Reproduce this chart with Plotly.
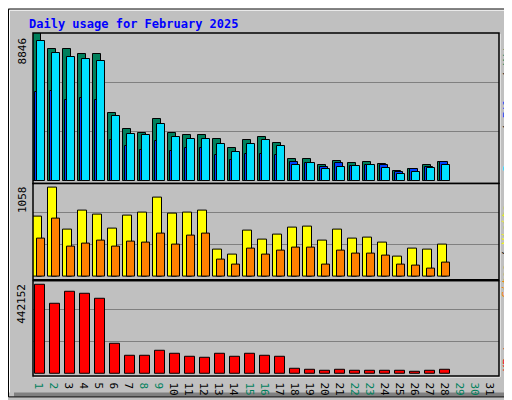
import plotly.graph_objects as go

days = list(range(1, 29))
all_days = list(range(1, 32))

hits = [8846, 7897, 7897, 7606, 7606, 4056, 3067, 2834, 3707, 2834, 2718, 2718, 2485, 1961,
        2427, 2601, 2252, 1280, 1320, 914, 1164, 1048, 1146, 972, 564, 681, 914, 1146]
files = [5337, 5395, 4813, 4929, 4813, 2444, 2078, 1845, 2369, 1787, 1961, 1961, 1554, 1263,
         1612, 1612, 1554, 1146, 1088, 832, 1030, 855, 914, 914, 506, 681, 797, 1100]
pages = [8363, 7664, 7432, 7315, 7199, 3882, 2776, 2718, 3416, 2601, 2485, 2485, 2194, 1729,
         2194, 2427, 2078, 914, 1088, 681, 797, 855, 914, 739, 390, 506, 739, 914]
visits = [659, 980, 520, 734, 680, 531, 670, 712, 873, 691, 712, 734, 296, 242,
          509, 413, 467, 541, 552, 403, 520, 424, 435, 381, 221, 306, 296, 360]
sites = [424, 638, 338, 370, 403, 338, 392, 381, 477, 360, 456, 477, 189, 135,
         306, 242, 285, 317, 317, 135, 285, 253, 253, 232, 135, 125, 93, 157]
kbytes = [406000, 321600, 375000, 366000, 344000, 138000, 80000, 80000, 103000, 89000, 76000,
          71000, 89000, 76000, 89000, 80000, 76000, 22000, 18000, 13000, 18000, 13000, 13000,
          13000, 13000, 9000, 13000, 18000]
weekend = [1, 2, 8, 9, 15, 16, 22, 23, 29, 30]

max_hits, max_visits, max_kb = 8846, 1058, 442152

FONT = "DejaVu Sans Mono"
W, H = 512, 400
L, R, T, B = 25, 491, 25, 378


def px(x):
    return (x - L) / (R - L)


def py(y):
    return (B - y) / (B - T)


fig = go.Figure()


def add_bar(y, color, off, width, axis):
    fig.add_trace(go.Bar(
        x=days, y=y, offset=off, width=width, yaxis=axis, xaxis="x",
        marker=dict(color=color, line=dict(color="black", width=1)),
        showlegend=False))


add_bar(hits, "#00805c", -0.51, 0.49, "y")
add_bar(files, "#0040ff", -0.38, 0.49, "y")
add_bar(pages, "#00e0ff", -0.25, 0.49, "y")
add_bar(visits, "#ffff00", -0.51, 0.55, "y2")
add_bar(sites, "#ff8000", -0.25, 0.5, "y2")
add_bar(kbytes, "#ff0000", -0.42, 0.67, "y3")

tick_text = [f"<span style='color:{'#00805c' if d in weekend else 'black'}'>{d}</span>"
             for d in all_days]

grid = dict(showgrid=True, gridcolor="#808080", gridwidth=1, showticklabels=False,
            zeroline=False, ticks="", anchor="x")
fig.update_layout(
    width=W, height=H,
    margin=dict(l=L, r=W - R, t=T, b=H - B),
    paper_bgcolor="#c0c0c0", plot_bgcolor="#c0c0c0",
    barmode="overlay", bargap=0,
    font=dict(family=FONT, size=11, color="black"),
    xaxis=dict(range=[0.47, 31.53], tickvals=all_days, ticktext=tick_text, anchor="y3",
               showgrid=False, zeroline=False, ticks="", tickfont=dict(size=11)),
    yaxis=dict(domain=[py(180), 1], range=[-175, max_hits],
               tickvals=[max_hits / 3, 2 * max_hits / 3], **grid),
    yaxis2=dict(domain=[py(279), py(180)], range=[-32, 1026],
                tickvals=[max_visits / 3, 2 * max_visits / 3], **grid),
    yaxis3=dict(domain=[0, py(280)], range=[-12060, 425630],
                tickvals=[max_kb / 3, 2 * max_kb / 3], **grid),
)

shapes = []
# outer frame with bevel
shapes.append(dict(type="rect", x0=px(506), x1=px(511), y0=py(395), y1=py(6),
                   fillcolor="#808080", line_width=0, layer="below"))
shapes.append(dict(type="rect", x0=px(6), x1=px(511), y0=py(399), y1=py(395),
                   fillcolor="#808080", line_width=0, layer="below"))
shapes.append(dict(type="rect", x0=px(0.5), x1=px(511.5), y0=py(399.5), y1=py(0.5),
                   line=dict(color="black", width=1)))
shapes.append(dict(type="line", x0=px(1.5), x1=px(506), y0=py(1.5), y1=py(1.5),
                   line=dict(color="white", width=1)))
shapes.append(dict(type="line", x0=px(1.5), x1=px(1.5), y0=py(1.5), y1=py(395),
                   line=dict(color="white", width=1)))
# panel borders
for top, bot in [(25, 180), (180, 279), (280, 378)]:
    shapes.append(dict(type="line", x0=px(L + 1), x1=px(R + 1), y0=py(bot + 1), y1=py(bot + 1),
                       line=dict(color="white", width=1)))
    shapes.append(dict(type="line", x0=px(R + 1), x1=px(R + 1), y0=py(top + 1), y1=py(bot + 1),
                       line=dict(color="white", width=1)))
    shapes.append(dict(type="rect", x0=px(L), x1=px(R), y0=py(bot), y1=py(top),
                       line=dict(color="black", width=1.5)))
for s in shapes:
    s.update(xref="paper", yref="paper")
fig.update_layout(shapes=shapes)

ann = [
    dict(x=px(19), y=py(16), text="<b>Daily usage for February 2025</b>", showarrow=False,
         xanchor="left", yanchor="middle", font=dict(color="#0000ff", size=12)),
    dict(x=px(14), y=py(28), text=str(max_hits), textangle=-90, showarrow=False,
         xanchor="center", yanchor="top"),
    dict(x=px(14), y=py(181), text=str(max_visits), textangle=-90, showarrow=False,
         xanchor="center", yanchor="top"),
    dict(x=px(14), y=py(281), text=str(max_kb), textangle=-90, showarrow=False,
         xanchor="center", yanchor="top"),
    dict(x=px(499), y=py(28), textangle=-90, showarrow=False, xanchor="center", yanchor="top",
         text="<span style='color:#00e0ff'>Pages</span> / <span style='color:#0040ff'>Files</span>"
              " / <span style='color:#00805c'>Hits</span>"),
    dict(x=px(499), y=py(199), textangle=-90, showarrow=False, xanchor="center", yanchor="top",
         text="<span style='color:#ff8000'>Sites</span> / <span style='color:#ffff00'>Visits</span>"),
    dict(x=px(499), y=py(330), textangle=-90, showarrow=False, xanchor="center", yanchor="top",
         text="<span style='color:#ff0000'>KBytes</span>"),
]
for a in ann:
    a.update(xref="paper", yref="paper")
fig.update_layout(annotations=ann)

fig.write_html("out.html")
